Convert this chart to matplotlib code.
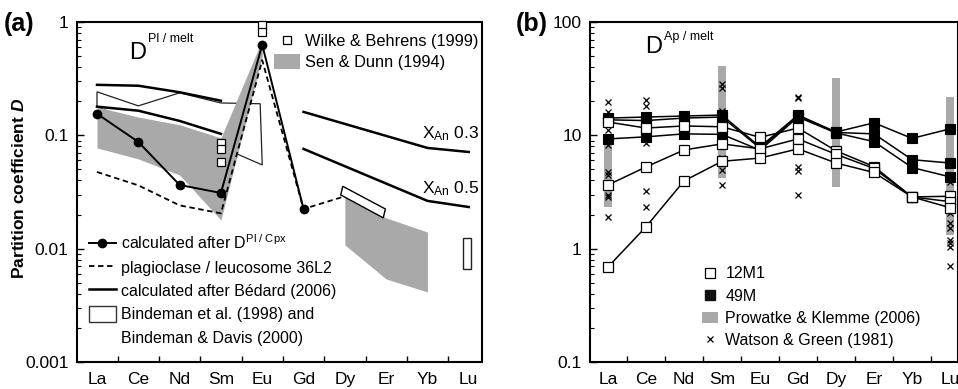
import numpy as np
import matplotlib
matplotlib.use('Agg')
import matplotlib.pyplot as plt
from matplotlib.patches import Polygon, Rectangle, Patch
from matplotlib.lines import Line2D
from matplotlib.ticker import FixedLocator, FixedFormatter, NullFormatter, LogLocator

plt.rcParams['font.family'] = ['Liberation Sans', 'DejaVu Sans']
plt.rcParams['mathtext.fontset'] = 'custom'
plt.rcParams['mathtext.rm'] = 'Liberation Sans'
plt.rcParams['mathtext.it'] = 'Liberation Sans:italic'
plt.rcParams['mathtext.bf'] = 'Liberation Sans:bold'
try:
    plt.rcParams['mathtext.bfit'] = 'Liberation Sans:italic:bold'
    HAS_BFIT = True
except KeyError:
    HAS_BFIT = False

GRAY = '#a9a9a9'

elements = ['La', 'Ce', 'Nd', 'Sm', 'Eu', 'Gd', 'Dy', 'Er', 'Yb', 'Lu']
idx = np.arange(len(elements))

# ---------------- panel (a) data ----------------
a_yticks = [0.001, 0.01, 0.1, 1]
a_yticklabels = ['0.001', '0.01', '0.1', '1']

calc_cpx = [0.155, 0.0875, 0.0365, 0.031, 0.63, 0.0224]          # La..Gd
leuco_36L2 = [0.0475, 0.0362, 0.0241, 0.0205, 0.46, 0.0224, 0.029]  # La..Dy

bedard_x1 = [0, 1, 2, 3]
bedard_03_lree = [0.279, 0.274, 0.240, 0.202]
bedard_05_lree = [0.179, 0.165, 0.134, 0.103]
bedard_x2 = [5, 8, 9]
bedard_03_hree = [0.161, 0.0774, 0.0713]
bedard_05_hree = [0.0759, 0.0264, 0.0233]

sen_x1 = [0, 1, 2, 3, 4]
sen_top1 = [0.178, 0.145, 0.124, 0.095, 0.70]
sen_bot1 = [0.0774, 0.062, 0.0447, 0.0179, 0.50]
sen_x2 = [6, 7, 8]
sen_top2 = [0.0286, 0.0187, 0.014]
sen_bot2 = [0.0108, 0.0054, 0.00415]

wilke_x = [3, 3, 3, 4, 4]
wilke_d = [0.0857, 0.0759, 0.0582, 0.94, 0.82]

bind_poly_x = [0, 1, 2, 3, 3.95, 4.0, 3.39, 3.0, 2.0, 1.0, 0]
bind_poly_d = [0.242, 0.182, 0.237, 0.193, 0.19, 0.0548, 0.0685, 0.08, 0.11, 0.13, 0.178]
bind_dyer_x = [5.95, 5.90, 6.93, 6.98]
bind_dyer_d = [0.0355, 0.0298, 0.0187, 0.0224]
bind_lu_x = [8.86, 9.06]
bind_lu_d = [0.00662, 0.0124]

# ---------------- panel (b) data ----------------
b_yticks = [0.1, 1, 10, 100]
b_yticklabels = ['0.1', '1', '10', '100']

m49_1 = [14.2, 14.5, 14.8, 15.1, 7.9, 15.1, 10.7, 12.9, 9.4, 11.4]
m49_2 = [13.7, 13.5, 14.2, 14.5, 7.7, 14.8, 10.6, 10.3, 6.1, 5.7]
m49_3 = [9.3, 9.7, 10.3, 10.2, 7.4, 14.5, 10.5, 8.8, 5.2, 4.3]
m12_1 = [13.1, 11.6, 12.1, 11.9, 9.6, 11.6, 7.3, 5.3, 2.86, 2.9]
m12_2 = [3.65, 5.26, 7.43, 8.4, 7.6, 9.3, 6.8, 5.1, 2.86, 2.6]
m12_3 = [0.69, 1.56, 3.96, 5.9, 6.3, 7.6, 5.7, 4.7, 2.86, 2.3]

prow_x = [0, 3, 6, 9]
prow_lo = [2.33, 4.2, 3.5, 1.32]
prow_hi = [9.0, 41.0, 32.0, 21.8]

wg_x = [0] * 9 + [1] * 5 + [3] * 6 + [5] * 5 + [9] * 8
wg_d = [19.7, 16.1, 11.2, 8.2, 4.75, 4.47, 2.98, 2.86, 1.9,
        20.5, 18.2, 8.57, 3.23, 2.33,
        28.5, 26.2, 16.4, 6.3, 4.96, 3.65,
        21.8, 21.3, 5.3, 4.8, 2.98,
        3.88, 2.07, 1.69, 1.52, 1.19, 1.12, 1.03, 0.70]

# ---------------- figure ----------------
W, H = 958, 389
fig = plt.figure(figsize=(W / 100, H / 100), dpi=100)
ax1 = fig.add_axes([77 / W, 27 / H, 405 / W, 340 / H])
ax2 = fig.add_axes([590 / W, 27 / H, 368 / W, 340 / H])


def setup(ax, xlim, ylim, yticks, ylabels):
    ax.set_yscale('log')
    ax.set_ylim(*ylim)
    ax.set_xlim(*xlim)
    ax.set_xticks(idx)
    ax.set_xticklabels(elements, fontsize=12.5)
    ax.set_xticks(idx[:-1] + 0.5, minor=True)
    ax.tick_params(axis='x', which='major', length=0, pad=7)
    ax.tick_params(axis='x', which='minor', length=4, width=1, direction='in')
    ax.yaxis.set_major_locator(FixedLocator(yticks))
    ax.yaxis.set_major_formatter(FixedFormatter(ylabels))
    ax.yaxis.set_minor_locator(LogLocator(base=10, subs=np.arange(2, 10)))
    ax.yaxis.set_minor_formatter(NullFormatter())
    ax.tick_params(axis='y', which='major', length=5, width=1, direction='in', labelsize=12.5, pad=6)
    ax.tick_params(axis='y', which='minor', length=3, width=0.8, direction='in')
    for s in ax.spines.values():
        s.set_linewidth(1.5)


setup(ax1, (-0.484, 9.32), (0.001, 1), a_yticks, a_yticklabels)
setup(ax2, (-0.474, 9.21), (0.1, 100), b_yticks, b_yticklabels)

# ---- panel (a) drawing ----
ax1.add_patch(Polygon(list(zip(bind_poly_x, bind_poly_d)), closed=True,
                      facecolor='none', edgecolor='#222222', lw=0.9, zorder=1))
ax1.fill_between(sen_x1, sen_bot1, sen_top1, color=GRAY, lw=0, zorder=2)
ax1.fill_between(sen_x2, sen_bot2, sen_top2, color=GRAY, lw=0, zorder=2)
ax1.add_patch(Polygon(list(zip(bind_dyer_x, bind_dyer_d)), closed=True,
                      facecolor='white', edgecolor='black', lw=1.0, zorder=4))
ax1.add_patch(Rectangle((bind_lu_x[0], bind_lu_d[0]), bind_lu_x[1] - bind_lu_x[0],
                        bind_lu_d[1] - bind_lu_d[0], facecolor='white',
                        edgecolor='#222222', lw=1.0, zorder=4))
ax1.plot(bedard_x1, bedard_03_lree, color='black', lw=1.8, zorder=3)
ax1.plot(bedard_x1, bedard_05_lree, color='black', lw=1.8, zorder=3)
ax1.plot(bedard_x2, bedard_03_hree, color='black', lw=1.8, zorder=3)
ax1.plot(bedard_x2, bedard_05_hree, color='black', lw=1.8, zorder=3)
ax1.plot(idx[:len(leuco_36L2)], leuco_36L2, color='black', lw=1.3,
         ls=(0, (3, 2)), zorder=3)
ax1.plot(idx[:len(calc_cpx)], calc_cpx, color='black', lw=1.4, marker='o', ms=6, zorder=5)
ax1.plot(wilke_x, wilke_d, ls='none', marker='s', ms=5.5, mfc='white', mec='black',
         mew=0.9, zorder=6, clip_on=False)

fig.text(422 / W, 1 - 138 / H, r'X$_{\mathregular{An}}$ 0.3', fontsize=12.5, ha='left', va='baseline')
fig.text(422 / W, 1 - 193 / H, r'X$_{\mathregular{An}}$ 0.5', fontsize=12.5, ha='left', va='baseline')

fig.text(129 / W, 1 - 59 / H, 'D', fontsize=17, ha='left', va='baseline')
fig.text(148 / W, 1 - 42 / H, 'Pl / melt', fontsize=9, ha='left', va='baseline')
fig.text(4 / W, 1 - 31 / H, '(a)', fontsize=18, fontweight='bold', ha='left', va='baseline')

if HAS_BFIT:
    ylab = r'Partition coefficient $\mathbfit{D}$'
else:
    ylab = 'Partition coefficient D'
fig.text(19 / W, 1 - 188 / H, ylab, fontsize=12.5, fontweight='bold', rotation=90,
         ha='center', va='center')

# legends panel (a)
h_w = Line2D([], [], ls='none', marker='s', ms=5.5, mfc='white', mec='black', mew=0.9)
h_s = Patch(facecolor=GRAY, edgecolor='none')
leg1 = ax1.legend([h_w, h_s], ['Wilke & Behrens (1999)', 'Sen & Dunn (1994)'],
                  loc='upper left', bbox_to_anchor=(0.487, 0.967), frameon=False,
                  borderpad=0, borderaxespad=0, handlelength=1.55, handletextpad=0.35,
                  handleheight=1.0, labelspacing=0.3, fontsize=11.8)
ax1.add_artist(leg1)

h1 = Line2D([], [], color='black', lw=1.4, marker='o', ms=6)
h2 = Line2D([], [], color='black', lw=1.3, ls=(0, (3, 2)))
h3 = Line2D([], [], color='black', lw=1.8)
h4 = Patch(facecolor='white', edgecolor='#333333', lw=1.0)
h5 = Line2D([], [], ls='none')
leg2 = ax1.legend([h1, h2, h3, h4, h5],
                  [r'calculated after D$^{\mathregular{Pl\ /\ Cpx}}$',
                   'plagioclase / leucosome 36L2',
                   'calculated after Bédard (2006)',
                   'Bindeman et al. (1998) and',
                   'Bindeman & Davis (2000)'],
                  loc='upper left', bbox_to_anchor=(0.03, 0.378), frameon=False,
                  borderpad=0, borderaxespad=0, handlelength=1.65, handletextpad=0.35,
                  handleheight=1.15, labelspacing=0.44, fontsize=11.5)

# ---- panel (b) drawing ----
ax2.bar(prow_x, np.array(prow_hi) - np.array(prow_lo), bottom=prow_lo, width=0.2,
        color=GRAY, lw=0, zorder=1)
ax2.plot(wg_x, wg_d, ls='none', marker='x', ms=5, mew=0.9, color='black', zorder=2)
for s in (m49_1, m49_2, m49_3):
    ax2.plot(idx, s, color='black', lw=1.1, marker='s', ms=7, mfc='black', mec='black',
             mew=0.8, zorder=3, clip_on=False)
for s in (m12_1, m12_2, m12_3):
    ax2.plot(idx, s, color='black', lw=1.1, marker='s', ms=7, mfc='white', mec='black',
             mew=0.9, zorder=4, clip_on=False)

fig.text(645 / W, 1 - 53 / H, 'D', fontsize=17, ha='left', va='baseline')
fig.text(664 / W, 1 - 40 / H, 'Ap / melt', fontsize=9, ha='left', va='baseline')
fig.text(516 / W, 1 - 31 / H, '(b)', fontsize=18, fontweight='bold', ha='left', va='baseline')

hb1 = Line2D([], [], ls='none', marker='s', ms=7, mfc='white', mec='black', mew=0.9)
hb2 = Line2D([], [], ls='none', marker='s', ms=7, mfc='#111111', mec='#111111')
hb3 = Patch(facecolor=GRAY, edgecolor='none')
hb4 = Line2D([], [], ls='none', marker='x', ms=5, mew=0.9, color='black')
ax2.legend([hb1, hb2, hb3, hb4], ['12M1', '49M', 'Prowatke & Klemme (2006)',
                                  'Watson & Green (1981)'],
           loc='upper left', bbox_to_anchor=(0.305, 0.281), frameon=False,
           borderpad=0, borderaxespad=0, handlelength=1.0, handletextpad=0.45,
           handleheight=0.7, labelspacing=0.45, fontsize=11.5)

fig.savefig('out.png', dpi=100)
